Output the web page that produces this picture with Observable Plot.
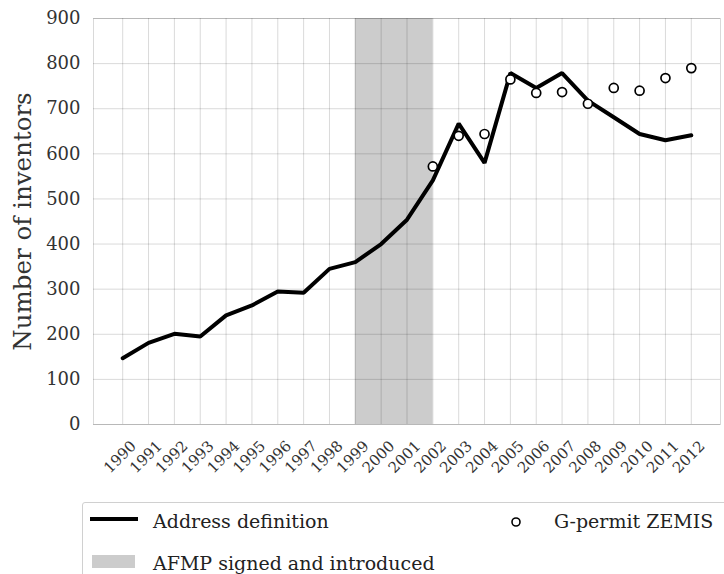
<!DOCTYPE html>
<html>
<head>
<meta charset="utf-8">
<script src="https://cdn.jsdelivr.net/npm/d3@7"></script>
<script src="https://cdn.jsdelivr.net/npm/@observablehq/plot@0.6"></script>
<style>
  html, body { margin: 0; padding: 0; background: #fff; }
  body { width: 724px; height: 574px; overflow: hidden; position: relative; font-family: "DejaVu Serif", serif; }
  #chart { position: absolute; left: 0; top: 0; }
  #legend { position: absolute; left: 82px; top: 502px; width: 700px; height: 100px; border: 1.5px solid #d0d0d0; border-radius: 3px; box-sizing: border-box; }
  .lg { position: absolute; font-size: 19px; color: #222; white-space: nowrap; line-height: 1; }
  .sym { position: absolute; }
</style>
</head>
<body>
<div id="chart"></div>
<div id="legend"></div>
<script>
const years = [1990,1991,1992,1993,1994,1995,1996,1997,1998,1999,2000,2001,2002,2003,2004,2005,2006,2007,2008,2009,2010,2011,2012];
const addressDefinition = [147,181,201,195,242,264,295,292,345,360,400,454,541,667,580,779,746,779,718,681,644,630,641];
const zemisYears = [2002,2003,2004,2005,2006,2007,2008,2009,2010,2011,2012];
const gPermitZemis = [572,640,644,765,735,737,711,746,740,768,790];
const yTicks = [0,100,200,300,400,500,600,700,800,900];
const afmpStart = 1999;
const afmpEnd = 2002;
const seriesNames = ["Address definition", "G-permit ZEMIS", "AFMP signed and introduced"];
const yLabel = "Number of inventors";

const lineData = years.map((y, i) => ({year: y, value: addressDefinition[i]}));
const dotData = zemisYears.map((y, i) => ({year: y, value: gPermitZemis[i]}));

const plot = Plot.plot({
  width: 724,
  height: 500,
  marginLeft: 93,
  marginRight: 4,
  marginTop: 18,
  marginBottom: 76,
  style: {fontFamily: "DejaVu Serif, serif", background: "white"},
  x: {type: "linear", domain: [1988.87, 2013.13], axis: null},
  y: {domain: [0, 900], axis: null},
  marks: [
    Plot.rect([{x1: afmpStart, x2: afmpEnd}], {x1: "x1", x2: "x2", y1: 0, y2: 900, fill: "#cccccc"}),
    Plot.gridX(years, {stroke: "#000", strokeOpacity: 0.15, strokeWidth: 1}),
    Plot.gridY(yTicks, {stroke: "#000", strokeOpacity: 0.15, strokeWidth: 1}),
    Plot.frame({stroke: "#000", strokeOpacity: 0.15}),
    Plot.line(lineData, {x: "year", y: "value", stroke: "#000", strokeWidth: 4, strokeLinejoin: "miter"}),
    Plot.dot(dotData, {x: "year", y: "value", r: 4.5, stroke: "#000", fill: "#fff", strokeWidth: 1.7}),
    Plot.axisY(yTicks, {tickSize: 0, tickPadding: 13, fontSize: 18, fill: "#333", label: null}),
    Plot.text(years, {x: d => d, text: d => String(d), frameAnchor: "bottom", rotate: -45, textAnchor: "end", lineAnchor: "middle", dx: 11, dy: 19, fontSize: 15, fill: "#333"}),
    Plot.text([yLabel], {frameAnchor: "left", rotate: -90, textAnchor: "middle", dx: -70, fontSize: 24.5, fill: "#333"})
  ]
});
document.getElementById("chart").appendChild(plot);

// Legend (positions relative to legend box at left 82, top 502)
const legend = document.getElementById("legend");
legend.innerHTML = `
  <svg class="sym" style="left:5px;top:10px" width="50" height="12"><line x1="2" y1="6" x2="50" y2="6" stroke="#000" stroke-width="4"/></svg>
  <div class="lg" style="left:70px;top:9px">${seriesNames[0]}</div>
  <svg class="sym" style="left:425px;top:11px" width="16" height="16"><circle cx="8" cy="8" r="4" fill="#fff" stroke="#000" stroke-width="1.6"/></svg>
  <div class="lg" style="left:471px;top:9px">${seriesNames[1]}</div>
  <div class="sym" style="left:9px;top:52px;width:43px;height:13px;background:#cccccc"></div>
  <div class="lg" style="left:70px;top:51px">${seriesNames[2]}</div>
`;
</script>
</body>
</html>
